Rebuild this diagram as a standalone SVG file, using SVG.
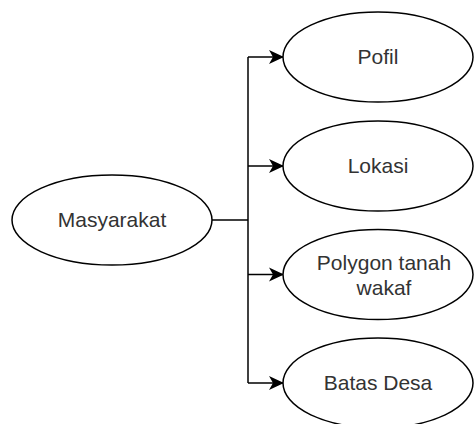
<svg xmlns="http://www.w3.org/2000/svg" width="474" height="424" viewBox="0 0 474 424">
  <style>
    .node ellipse { fill: #ffffff; stroke: #000000; stroke-width: 1.5; }
    .node text { font-family: "Liberation Sans", Arial, sans-serif; font-size: 21px; fill: #333333; text-anchor: middle; }
    .edge { fill: none; stroke: #000000; stroke-width: 1.5; }
  </style>
  <defs>
    <marker id="arrow" markerUnits="userSpaceOnUse" viewBox="0 0 15 15" refX="14" refY="7.5" markerWidth="15" markerHeight="15" orient="auto">
      <path d="M0,0.5 L15,7.5 L0,14.5 L4,7.5 Z" fill="#000000"/>
    </marker>
  </defs>
  <rect width="474" height="424" fill="#ffffff"/>
  <g id="connectors">
    <path class="edge" d="M212,220 H248"/>
    <path class="edge" d="M248,57 V383"/>
    <path class="edge" d="M248,57 H283" marker-end="url(#arrow)"/>
    <path class="edge" d="M248,166 H283" marker-end="url(#arrow)"/>
    <path class="edge" d="M248,274.5 H283" marker-end="url(#arrow)"/>
    <path class="edge" d="M248,383 H283" marker-end="url(#arrow)"/>
  </g>
  <g id="masyarakat" class="node">
    <ellipse cx="112" cy="220" rx="100" ry="45"/>
    <text x="112" y="227">Masyarakat</text>
  </g>
  <g id="pofil" class="node">
    <ellipse cx="378" cy="57" rx="95" ry="45"/>
    <text x="378" y="64">Pofil</text>
  </g>
  <g id="lokasi" class="node">
    <ellipse cx="378" cy="166" rx="95" ry="45"/>
    <text x="378" y="173">Lokasi</text>
  </g>
  <g id="polygon" class="node">
    <ellipse cx="378" cy="274.5" rx="95" ry="45"/>
    <text x="384" y="270">Polygon tanah</text>
    <text x="384" y="295">wakaf</text>
  </g>
  <g id="batas-desa" class="node">
    <ellipse cx="378" cy="383" rx="95" ry="45"/>
    <text x="378" y="390">Batas Desa</text>
  </g>
</svg>
